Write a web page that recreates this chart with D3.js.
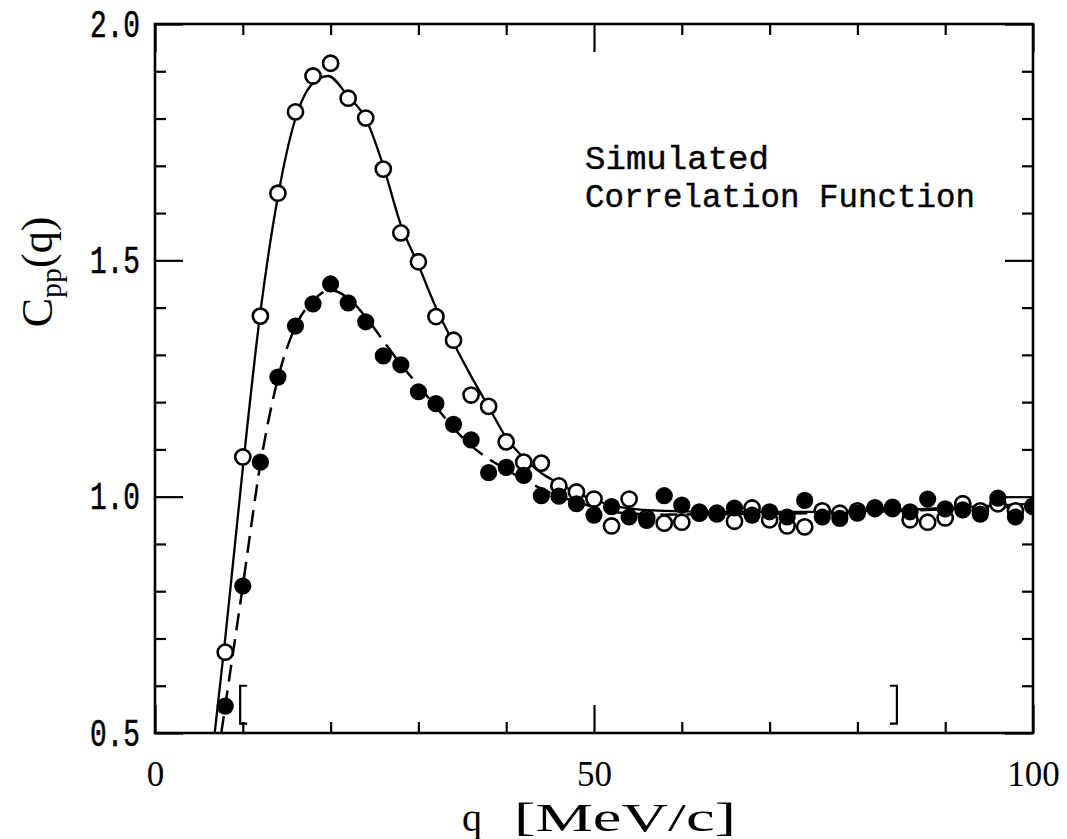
<!DOCTYPE html>
<html>
<head>
<meta charset="utf-8">
<script src="https://cdn.jsdelivr.net/npm/d3@7"></script>
<style>
  html, body { margin: 0; padding: 0; background: #fff; }
  svg { display: block; }
</style>
</head>
<body>
<svg id="chart" width="1067" height="839"></svg>
<script>
// ---- data ----
const qValues = [8,10,12,14,16,18,20,22,24,26,28,30,32,34,36,38,40,42,44,46,48,50,52,54,56,58,60,62,64,66,68,70,72,74,76,78,80,82,84,86,88,90,92,94,96,98,100];
const openPoints = [0.671,1.084,1.382,1.642,1.814,1.890,1.917,1.843,1.801,1.693,1.558,1.497,1.381,1.331,1.215,1.191,1.116,1.073,1.071,1.023,1.010,0.995,0.938,0.995,0.955,0.944,0.946,0.965,0.965,0.948,0.976,0.951,0.938,0.936,0.970,0.965,0.970,0.975,0.975,0.951,0.946,0.955,0.985,0.970,0.985,0.970,0.980];
const filledPoints = [0.557,0.811,1.073,1.253,1.361,1.408,1.450,1.410,1.370,1.298,1.279,1.222,1.197,1.153,1.120,1.051,1.062,1.045,1.002,1.001,0.985,0.961,0.979,0.957,0.950,1.002,0.982,0.968,0.963,0.976,0.961,0.968,0.957,0.992,0.957,0.954,0.965,0.977,0.978,0.968,0.995,0.974,0.972,0.963,0.997,0.957,0.979];

const solidCurveQ = [6.8,8,10,12,14,16,18,19.7,22,24,26,28,30,32,34,36,38,40,42,44,46,48,50,53,58,65,75,85,92,100];
const solidCurveC = [0.5,0.70,1.06,1.39,1.635,1.80,1.875,1.89,1.847,1.80,1.70,1.575,1.49,1.40,1.325,1.255,1.19,1.125,1.082,1.05,1.028,1.008,0.993,0.978,0.970,0.968,0.968,0.972,0.978,0.985];
const dashedCurveQ = [7.55,8,10,12,14,16,18,20,22,24,26,28,30,32,34,36,38,40,42,44,46,48,50,53,58,65,75,85,92,100];
const dashedCurveC = [0.5,0.557,0.811,1.068,1.25,1.36,1.415,1.437,1.42,1.38,1.33,1.28,1.235,1.19,1.145,1.108,1.08,1.058,1.035,1.017,1.0,0.99,0.977,0.966,0.962,0.963,0.965,0.970,0.975,0.980];

const fitRange = [9.7, 84.5];
const bracketSpan = [0.52, 0.60];

const xMajor = [0, 50, 100];
const xMinor = [10, 20, 30, 40, 60, 70, 80, 90];
const yMajor = [0.5, 1.0, 1.5, 2.0];
const yMinor = [0.6, 0.7, 0.8, 0.9, 1.1, 1.2, 1.3, 1.4, 1.6, 1.7, 1.8, 1.9];

const annotationLines = ["Simulated", "Correlation Function"];

// ---- layout ----
const svg = d3.select("#chart");
const L = 155, R = 1033, T = 24, B = 733;
const x = d3.scaleLinear().domain([0, 100]).range([L, R]);
const y = d3.scaleLinear().domain([0.5, 2.0]).range([B, T]);

const monoFont = "'Liberation Mono', 'DejaVu Sans Mono', monospace";
const serifFont = "'Liberation Serif', 'DejaVu Serif', serif";

svg.append("defs").append("clipPath").attr("id", "plotclip")
  .append("rect").attr("x", L).attr("y", T).attr("width", R - L).attr("height", B - T);

// ---- axes (ticks drawn inward on all four sides) ----
function styleAxis(g) {
  g.select(".domain").remove();
  g.selectAll(".tick line").attr("stroke", "#000").attr("stroke-width", 2.2);
}

// bottom
svg.append("g").attr("transform", `translate(0,${B})`)
  .call(d3.axisBottom(x).tickValues(xMajor).tickSize(-28).tickPadding(0).tickFormat(d3.format("d")))
  .call(styleAxis)
  .call(g => g.selectAll(".tick text").attr("y", 53).attr("dy", null)
      .attr("font-family", serifFont).attr("font-size", 36).attr("fill", "#000")
      .attr("textLength", d => String(d).length * 17.5).attr("lengthAdjust", "spacingAndGlyphs"));
svg.append("g").attr("transform", `translate(0,${B})`)
  .call(d3.axisBottom(x).tickValues(xMinor).tickSize(-11).tickFormat(""))
  .call(styleAxis);
// top
svg.append("g").attr("transform", `translate(0,${T})`)
  .call(d3.axisTop(x).tickValues(xMajor).tickSize(-28).tickFormat(""))
  .call(styleAxis);
svg.append("g").attr("transform", `translate(0,${T})`)
  .call(d3.axisTop(x).tickValues(xMinor).tickSize(-11).tickFormat(""))
  .call(styleAxis);
// left
svg.append("g").attr("transform", `translate(${L},0)`)
  .call(d3.axisLeft(y).tickValues(yMajor).tickSize(-28).tickPadding(15).tickFormat(d3.format(".1f")))
  .call(styleAxis)
  .call(g => g.selectAll(".tick text")
      .attr("font-family", monoFont).attr("font-size", 38)
      .attr("stroke", "#000").attr("stroke-width", 0.6)
      .attr("fill", "#000").attr("textLength", 50).attr("lengthAdjust", "spacingAndGlyphs"));
svg.append("g").attr("transform", `translate(${L},0)`)
  .call(d3.axisLeft(y).tickValues(yMinor).tickSize(-11).tickFormat(""))
  .call(styleAxis);
// right
svg.append("g").attr("transform", `translate(${R},0)`)
  .call(d3.axisRight(y).tickValues(yMajor).tickSize(-28).tickFormat(""))
  .call(styleAxis);
svg.append("g").attr("transform", `translate(${R},0)`)
  .call(d3.axisRight(y).tickValues(yMinor).tickSize(-11).tickFormat(""))
  .call(styleAxis);

// frame
svg.append("rect").attr("x", L).attr("y", T).attr("width", R - L).attr("height", B - T)
  .attr("fill", "none").attr("stroke", "#000").attr("stroke-width", 2.6);

// ---- curves ----
const plot = svg.append("g").attr("clip-path", "url(#plotclip)");
const line = d3.line().x(d => x(d[0])).y(d => y(d[1])).curve(d3.curveMonotoneX);

plot.append("path")
  .datum(solidCurveQ.map((q, i) => [q, solidCurveC[i]]))
  .attr("d", line).attr("fill", "none").attr("stroke", "#000").attr("stroke-width", 2.3);

plot.append("path")
  .datum(dashedCurveQ.map((q, i) => [q, dashedCurveC[i]]))
  .attr("d", line).attr("fill", "none").attr("stroke", "#000").attr("stroke-width", 2.5)
  .attr("stroke-dasharray", "17,9");

// ---- points ----
plot.selectAll("circle.open").data(qValues.map((q, i) => [q, openPoints[i]]))
  .enter().append("circle").attr("class", "open")
  .attr("cx", d => x(d[0])).attr("cy", d => y(d[1])).attr("r", 7.6)
  .attr("fill", "#fff").attr("stroke", "#000").attr("stroke-width", 2.6);

plot.selectAll("circle.filled").data(qValues.map((q, i) => [q, filledPoints[i]]))
  .enter().append("circle").attr("class", "filled")
  .attr("cx", d => x(d[0])).attr("cy", d => y(d[1])).attr("r", 8.6)
  .attr("fill", "#000");

// ---- fit-range brackets ----
const brk = svg.append("g").attr("fill", "none").attr("stroke", "#000").attr("stroke-width", 2.2);
const by0 = y(bracketSpan[1]), by1 = y(bracketSpan[0]);
brk.append("path").attr("d", `M${x(fitRange[0]) + 7},${by0} H${x(fitRange[0])} V${by1} H${x(fitRange[0]) + 7}`);
brk.append("path").attr("d", `M${x(fitRange[1]) - 7},${by0} H${x(fitRange[1])} V${by1} H${x(fitRange[1]) - 7}`);

// ---- annotation ----
svg.append("text").attr("x", 585).attr("y", 169)
  .attr("font-family", monoFont).attr("font-size", 33).attr("fill", "#000")
  .attr("stroke", "#000").attr("stroke-width", 0.4)
  .attr("textLength", 184).attr("lengthAdjust", "spacingAndGlyphs")
  .text(annotationLines[0]);
svg.append("text").attr("x", 585).attr("y", 207)
  .attr("font-family", monoFont).attr("font-size", 33).attr("fill", "#000")
  .attr("stroke", "#000").attr("stroke-width", 0.4)
  .attr("textLength", 390).attr("lengthAdjust", "spacingAndGlyphs")
  .text(annotationLines[1]);

// ---- axis titles ----
const xt = svg.append("text").attr("y", 831)
  .attr("font-family", serifFont).attr("fill", "#000");
xt.append("tspan").attr("x", 462).attr("font-size", 40).text("q");
xt.append("tspan").attr("x", 514).attr("font-size", 40)
  .attr("textLength", 222).attr("lengthAdjust", "spacingAndGlyphs").text("[MeV/c]");

const yt = svg.append("text")
  .attr("transform", "translate(52,272) rotate(-90)")
  .attr("text-anchor", "middle")
  .attr("font-family", serifFont).attr("font-size", 44).attr("fill", "#000");
yt.append("tspan").text("C");
yt.append("tspan").attr("font-size", 30).attr("dy", 9).text("pp");
yt.append("tspan").attr("dy", -9).text("(q)");
</script>
</body>
</html>
